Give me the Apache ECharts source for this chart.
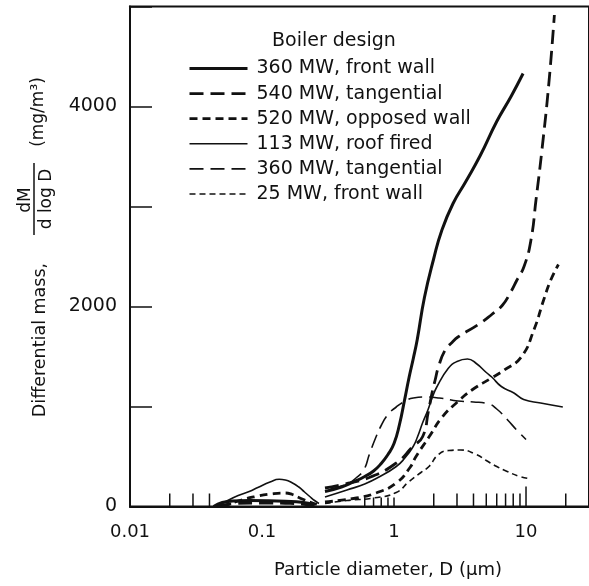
<!DOCTYPE html>
<html>
<head>
<meta charset="utf-8">
<script src="https://cdn.jsdelivr.net/npm/echarts@6/dist/echarts.min.js"></script>
<style>
  html, body { margin: 0; padding: 0; background: #fff; }
  #chart { width: 589px; height: 586px; }
</style>
</head>
<body>
<div id="chart"></div>
<script>
// ---------- data (diameter in µm, dM/dlogD in mg/m3) ----------
const seriesNames = [
  '360 MW, front wall',
  '540 MW, tangential',
  '520 MW, opposed wall',
  '113 MW, roof fired',
  '360 MW, tangential',
  '25 MW, front wall'
];

const frontWall360 = [
  [0.043, 0], [0.05, 40], [0.06, 55], [0.08, 60], [0.11, 58], [0.15, 52], [0.2, 42], [0.25, 15],
  [0.27, null],
  [0.3, 150], [0.4, 195], [0.5, 250], [0.6, 300], [0.7, 355], [0.8, 430], [0.9, 520], [1.0, 630],
  [1.1, 820], [1.2, 1060], [1.3, 1290], [1.4, 1480], [1.5, 1670], [1.7, 2090], [2.0, 2480],
  [2.3, 2760], [2.8, 3030], [3.5, 3250], [4.5, 3510], [6.0, 3850], [7.7, 4100], [9.5, 4330]
];

const tangential540 = [
  [0.046, 0], [0.06, 28], [0.1, 35], [0.15, 32], [0.2, 25], [0.25, 8],
  [0.27, null],
  [0.3, 185], [0.39, 215], [0.65, 290], [1.04, 435], [1.39, 600], [1.65, 700], [1.82, 950],
  [1.94, 1135], [2.05, 1265], [2.17, 1395], [2.44, 1565], [2.75, 1640], [3.05, 1695],
  [4.3, 1815], [5.5, 1920], [6.6, 2010], [7.7, 2150], [8.5, 2260], [9.66, 2400], [10.9, 2665],
  [11.9, 3065], [13.2, 3565], [14.9, 4235], [16.4, 4915]
];

const opposedWall520 = [
  [0.05, 0], [0.07, 65], [0.09, 100], [0.117, 125], [0.148, 135], [0.17, 120], [0.186, 95],
  [0.21, 65], [0.23, 45], [0.26, 20],
  [0.27, null],
  [0.3, 45], [0.52, 85], [0.73, 135], [1.04, 235], [1.33, 395], [1.46, 495], [1.84, 695],
  [2.32, 895], [3.05, 1050], [3.89, 1165], [5.48, 1285], [6.85, 1365], [9.2, 1495],
  [11.5, 1770], [13.6, 2065], [15.4, 2265], [17.6, 2420]
];

const roofFired113 = [
  [0.046, 0], [0.055, 60], [0.066, 110], [0.08, 150], [0.093, 190], [0.115, 245], [0.135, 272],
  [0.15, 265], [0.165, 245], [0.19, 195], [0.21, 145], [0.23, 100], [0.25, 60], [0.27, 30],
  [0.28, null],
  [0.3, 95], [0.44, 165], [0.6, 225], [0.77, 295], [1.04, 400], [1.2, 480], [1.39, 595],
  [1.5, 690], [1.65, 840], [1.8, 960], [1.95, 1090], [2.1, 1190], [2.57, 1380], [3.0, 1450],
  [3.6, 1475], [4.2, 1430], [5.0, 1340], [5.5, 1295], [6.5, 1200], [8.1, 1135], [9.6, 1070],
  [12.9, 1035], [19, 995]
];

const tangential360 = [
  [0.33, 175], [0.45, 230], [0.52, 290], [0.59, 365], [0.65, 520], [0.73, 695], [0.8, 810],
  [0.9, 920], [1.04, 995], [1.2, 1050], [1.4, 1085], [1.73, 1095], [2.2, 1085], [3.05, 1055],
  [4.0, 1045], [5.1, 1030], [6.0, 975], [7.2, 870], [8.5, 765], [10, 670]
];

const frontWall25 = [
  [0.3, 30], [0.44, 60], [0.7, 85], [1.04, 140], [1.3, 250], [1.6, 340], [1.84, 400],
  [2.17, 520], [2.6, 560], [3.2, 565], [4.2, 520], [5.0, 460], [6.0, 400], [7.2, 350],
  [9.0, 300], [10.9, 275]
];

const xTickLabels = [0.01, 0.1, 1, 10];
const yTickLabels = [0, 2000, 4000];
const xTicksShort = [0.6, 0.7, 0.8, 0.9, 1];
const xTicksMid = [0.02, 0.03, 0.04, 2, 3, 4, 5, 6, 7, 8, 9, 20];
const xTicksLong = [10];

// ---------- chart ----------
const INK = '#111';
const FONT = 'DejaVu Sans';
const chart = echarts.init(document.getElementById('chart'), null, { renderer: 'canvas' });

function tickSeries(vals, len) {
  return {
    type: 'custom',
    silent: true,
    clip: false,
    z: 1,
    data: vals.map(v => [v, 0]),
    renderItem: function (params, api) {
      const p = api.coord([api.value(0), 0]);
      return {
        type: 'line',
        shape: { x1: p[0], y1: p[1], x2: p[0], y2: p[1] - len },
        style: { stroke: INK, lineWidth: 1.5 }
      };
    }
  };
}

const styles = [
  { width: 3, type: 'solid' },
  { width: 2.8, type: [14, 7] },
  { width: 2.8, type: [8, 5] },
  { width: 1.6, type: 'solid' },
  { width: 1.6, type: [14, 7] },
  { width: 1.6, type: [6, 4] }
];
const datasets = [frontWall360, tangential540, opposedWall520, roofFired113, tangential360, frontWall25];

const lineSeries = datasets.map((d, i) => ({
  name: seriesNames[i],
  type: 'line',
  data: d,
  symbol: 'none',
  showSymbol: false,
  smooth: 0.5,
  connectNulls: false,
  z: 3,
  lineStyle: { color: INK, width: styles[i].width, type: styles[i].type, cap: 'butt' },
  itemStyle: { color: INK }
}));

function near(a, b) { return Math.abs(Math.log10(a) - Math.log10(b)) < 1e-6; }

const option = {
  animation: false,
  backgroundColor: '#fff',
  grid: {
    left: 130, top: 6.5, right: -7, bottom: 79.5,
    show: true, borderColor: INK, borderWidth: 2, backgroundColor: 'transparent'
  },
  xAxis: {
    type: 'log', logBase: 10, min: 0.01, max: 30,
    axisLine: { show: true, lineStyle: { color: INK, width: 2 } },
    axisTick: { show: false },
    splitLine: { show: false },
    axisLabel: {
      color: INK, fontFamily: FONT, fontSize: 18, margin: 17,
      showMaxLabel: false,
      formatter: function (v) {
        for (const t of xTickLabels) { if (near(v, t)) return String(t); }
        return '';
      }
    }
  },
  yAxis: {
    type: 'value', min: 0, max: 5000, interval: 1000,
    axisLine: { show: true, lineStyle: { color: INK, width: 2 } },
    axisTick: { show: true, inside: true, length: 22, lineStyle: { color: INK, width: 1.5 } },
    splitLine: { show: false },
    axisLabel: {
      color: INK, fontFamily: FONT, fontSize: 19, margin: 13,
      formatter: function (v) { return yTickLabels.indexOf(v) >= 0 ? String(v) : ''; }
    }
  },
  legend: {
    orient: 'vertical',
    left: 188, top: 59,
    padding: 0,
    itemWidth: 58, itemHeight: 20, itemGap: 6.1,
    itemStyle: { opacity: 0, borderWidth: 0 },
    textStyle: { color: INK, fontFamily: FONT, fontSize: 19, padding: [0, 0, 0, 4] },
    data: seriesNames.map((n, i) => ({
      name: n,
      itemStyle: { opacity: 0, borderWidth: 0 },
      lineStyle: { color: INK, width: styles[i].width, type: styles[i].type, opacity: 1 }
    })),
    selectedMode: false
  },
  graphic: [
    { type: 'text', left: 272, top: 32, style: { text: 'Boiler design', fill: INK, font: '19px "DejaVu Sans"' } },
    { type: 'text', x: 388, y: 570, style: { text: 'Particle diameter, D (µm)', fill: INK, font: '18px "DejaVu Sans"', align: 'center', verticalAlign: 'middle' } },
    { type: 'text', x: 40, y: 340, rotation: Math.PI / 2, style: { text: 'Differential mass,', fill: INK, font: '17.5px "DejaVu Sans"', align: 'center', verticalAlign: 'middle' } },
    { type: 'text', x: 26, y: 200, rotation: Math.PI / 2, style: { text: 'dM', fill: INK, font: '17px "DejaVu Sans"', align: 'center', verticalAlign: 'middle' } },
    { type: 'line', shape: { x1: 34, y1: 163, x2: 34, y2: 235 }, style: { stroke: INK, lineWidth: 1.5 } },
    { type: 'text', x: 47, y: 199, rotation: Math.PI / 2, style: { text: 'd log D', fill: INK, font: '17px "DejaVu Sans"', align: 'center', verticalAlign: 'middle' } },
    { type: 'text', x: 39, y: 112, rotation: Math.PI / 2, style: { text: '(mg/m³)', fill: INK, font: '17px "DejaVu Sans"', align: 'center', verticalAlign: 'middle' } }
  ],
  series: lineSeries.concat([
    tickSeries(xTicksShort, 9),
    tickSeries(xTicksMid, 13),
    tickSeries(xTicksLong, 20)
  ])
};

chart.setOption(option);
</script>
</body>
</html>
